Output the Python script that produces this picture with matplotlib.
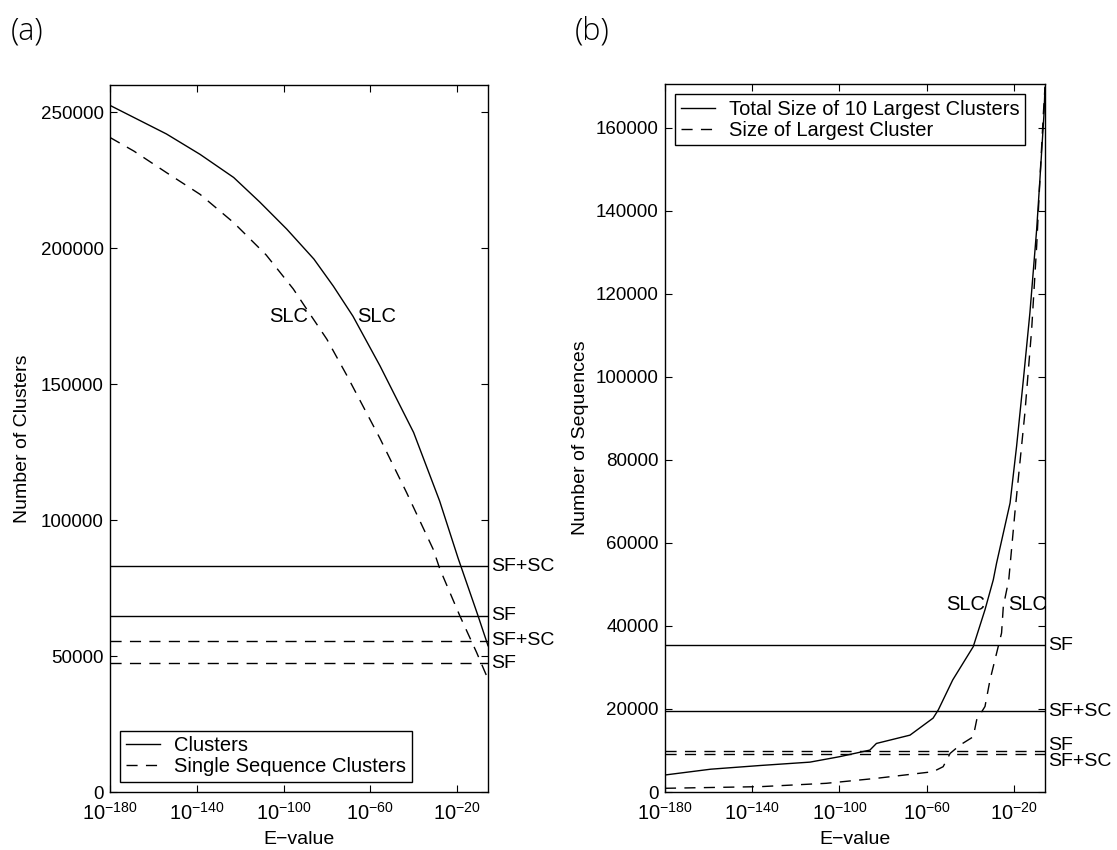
import numpy as np
import matplotlib
matplotlib.use("Agg")
import matplotlib.pyplot as plt
from matplotlib.ticker import FixedLocator, NullLocator

plt.rcParams['font.family'] = ['Liberation Sans', 'DejaVu Sans']
plt.rcParams['mathtext.fontset'] = 'custom'
plt.rcParams['mathtext.rm'] = 'Liberation Sans'
plt.rcParams['mathtext.it'] = 'Liberation Sans:italic'
plt.rcParams['mathtext.bf'] = 'Liberation Sans:bold'

# ---- panel (a): number of clusters vs E-value (log10 of E-value) ----
clus_exp = [-180, -154, -138.5, -123, -111, -98.5, -86, -77, -68, -55.5, -40, -28,
            -19.5, -10.3, -5.7]
clus_val = [252500, 242000, 234500, 226000, 217000, 207000, 196000, 186000, 175000,
            156700, 132200, 107000, 86000, 64800, 53800]

single_exp = [-180, -169, -154, -138.5, -123, -108, -95.5, -88, -80, -71, -55.5,
              -43.3, -31, -27.9, -18.7, -11, -5.7]
single_val = [240700, 235700, 227800, 219800, 209400, 197500, 185000, 176000, 166500,
              153500, 130000, 110200, 89300, 82000, 64800, 51400, 41500]

a_solid_refs = {"SF+SC": 83000, "SF": 64800}
a_dash_refs = {"SF+SC": 55600, "SF": 47300}

# ---- panel (b): sizes of largest clusters ----
top10_exp = [-180, -159, -136, -113.5, -100, -86, -83, -67.6, -57, -54.6, -48, -38.6,
             -33.2, -29.4, -27.9, -21.7, -18.7, -15.6, -12.6, -9.5, -8, -6.1, -5.7]
top10_val = [4100, 5500, 6400, 7200, 8500, 10100, 11700, 13700, 17800, 19800, 27000,
             35000, 43900, 51100, 55100, 69600, 83300, 99300, 115400, 135500, 147600,
             163600, 169700]

largest_exp = [-180, -136, -106, -83, -57, -52.4, -49.2, -44.7, -38.6, -37, -33.2,
               -30.9, -27.9, -25.6, -24.8, -22.3, -19.5, -14.9, -11.8, -9.5, -8, -6.4,
               -5.7]
largest_val = [900, 1300, 2100, 3300, 4900, 6100, 9300, 11300, 13300, 17400, 20600,
               27000, 33400, 38300, 44700, 51100, 67200, 91300, 111400, 131500, 147600,
               163600, 169700]

b_solid_refs = {"SF": 35300, "SF+SC": 19500}
b_dash_refs = {"SF": 9900, "SF+SC": 9100}

xtick_exp = [-180, -140, -100, -60, -20]
x_lo, x_hi = -180, -5.7

DASH = (0, (8, 6))
FS = 14


def setup_axes(ax, ymax, yticks, ylabel):
    ax.set_xscale('log')
    ax.set_xlim(10.0 ** x_lo, 10.0 ** x_hi)
    ax.set_ylim(0, ymax)
    ax.xaxis.set_major_locator(FixedLocator([10.0 ** e for e in xtick_exp]))
    ax.xaxis.set_minor_locator(NullLocator())
    ax.set_yticks(yticks)
    ax.set_yticklabels([str(v) for v in yticks])
    ax.tick_params(direction='in', top=True, right=True, length=5, width=0.8,
                   labelsize=13.5)
    ax.tick_params(axis='x', pad=7, labelsize=14.5)
    ax.tick_params(axis='y', pad=4.5)
    for s in ax.spines.values():
        s.set_linewidth(1.0)
    ax.set_xlabel('E\u2212value', fontsize=FS, labelpad=5)
    ax.set_ylabel(ylabel, fontsize=FS)


def side_label(ax, y, txt, dy=0):
    ax.annotate(txt, xy=(1.0, y), xycoords=ax.get_yaxis_transform(),
                xytext=(2, dy), textcoords='offset points',
                ha='left', va='center', fontsize=FS)


def add_legend(ax, loc):
    leg = ax.legend(loc=loc, fontsize=14.5, frameon=True, fancybox=False,
                    edgecolor='black', framealpha=1, borderpad=0.28,
                    labelspacing=0.1, handlelength=1.7, handletextpad=0.7,
                    borderaxespad=0.5)
    leg.get_frame().set_linewidth(1.0)


fig = plt.figure(figsize=(11.17, 8.5), dpi=100)
e = lambda lst: [10.0 ** v for v in lst]

# panel (a)
ax1 = fig.add_axes([0.0985, 0.0682, 0.3384, 0.8318])
ax1.plot(e(clus_exp), clus_val, color='black', lw=1.0, label='Clusters')
ax1.plot(e(single_exp), single_val, color='black', lw=1.0, ls=DASH,
         label='Single Sequence Clusters')
for k, v in a_solid_refs.items():
    ax1.axhline(v, color='black', lw=1.0)
    side_label(ax1, v, k)
for k, v in a_dash_refs.items():
    ax1.axhline(v, color='black', lw=1.0, ls=DASH)
    side_label(ax1, v, k)
ax1.text(10.0 ** -88.5, 175000, 'SLC', ha='right', va='center', fontsize=14.5)
ax1.text(10.0 ** -66, 175000, 'SLC', ha='left', va='center', fontsize=14.5)
setup_axes(ax1, 260000, [0, 50000, 100000, 150000, 200000, 250000],
           'Number of Clusters')
ax1.yaxis.set_label_coords(-0.21, 0.5)
add_legend(ax1, 'lower left')

# panel (b)
ax2 = fig.add_axes([0.5953, 0.0682, 0.3402, 0.833])
ax2.plot(e(top10_exp), top10_val, color='black', lw=1.0,
         label='Total Size of 10 Largest Clusters')
ax2.plot(e(largest_exp), largest_val, color='black', lw=1.0, ls=DASH,
         label='Size of Largest Cluster')
for k, v in b_solid_refs.items():
    ax2.axhline(v, color='black', lw=1.0)
    side_label(ax2, v, k)
ax2.axhline(b_dash_refs["SF"], color='black', lw=1.0, ls=DASH)
ax2.axhline(b_dash_refs["SF+SC"], color='black', lw=1.0, ls=DASH)
side_label(ax2, b_dash_refs["SF"], "SF", dy=4)
side_label(ax2, b_dash_refs["SF+SC"], "SF+SC", dy=-5)
ax2.text(10.0 ** -33.2, 45100, 'SLC', ha='right', va='center', fontsize=14.5)
ax2.text(10.0 ** -22.7, 45100, 'SLC', ha='left', va='center', fontsize=14.5)
setup_axes(ax2, 170500, list(range(0, 160001, 20000)), 'Number of Sequences')
ax2.yaxis.set_label_coords(-0.2, 0.5)
add_legend(ax2, 'upper left')

fig.text(0.024, 0.963, '(a)', fontsize=22, family=['Open Sans', 'DejaVu Sans'],
         weight='light', ha='center', va='center')
fig.text(0.530, 0.963, '(b)', fontsize=22, family=['Open Sans', 'DejaVu Sans'],
         weight='light', ha='center', va='center')

fig.savefig('out.png', dpi=100)
